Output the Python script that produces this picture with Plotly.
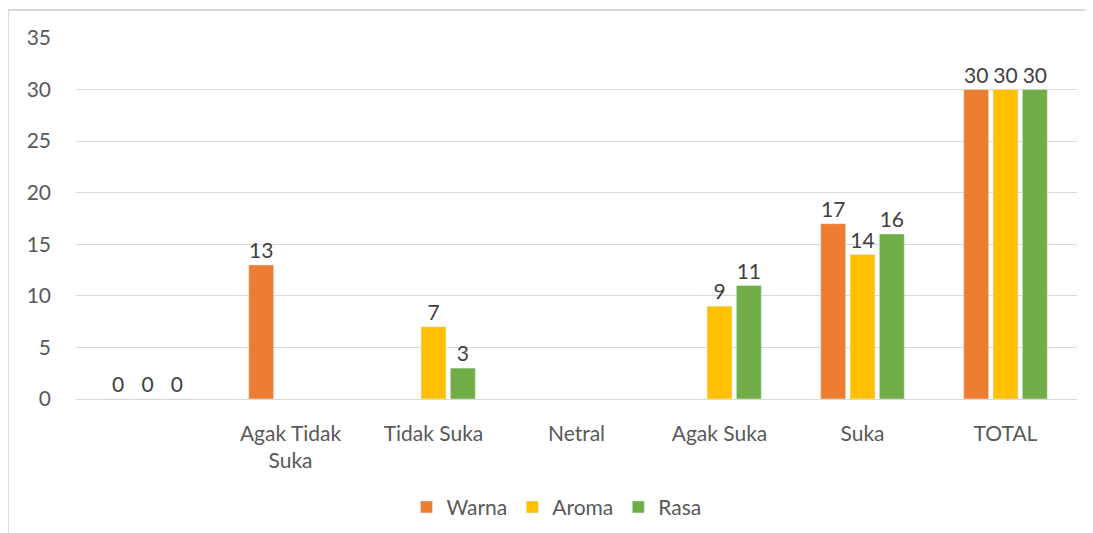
import plotly.graph_objects as go

categories = [" ", "Agak Tidak<br>Suka", "Tidak Suka", "Netral", "Agak Suka", "Suka", "TOTAL"]
warna = [0, 13, None, None, None, 17, 30]
aroma = [0, None, 7, None, 9, 14, 30]
rasa = [0, None, 3, None, 11, 16, 30]
series_names = ["Warna", "Aroma", "Rasa"]
colors = ["#ED7D31", "#FFC000", "#70AD47"]

FONT = "Lato, 'Open Sans', sans-serif"
FS = 21

fig = go.Figure()
for name, vals, col in zip(series_names, [warna, aroma, rasa], colors):
    fig.add_trace(go.Bar(
        x=categories, y=vals, name=name, marker_color=col,
        text=[("" if v is None else str(v)) for v in vals],
        textposition="outside", cliponaxis=False,
        textfont=dict(size=FS, color="#404040", family=FONT),
    ))

fig.update_layout(
    width=1085, height=525,
    margin=dict(l=68, r=16, t=30, b=134, autoexpand=False),
    plot_bgcolor="white", paper_bgcolor="white",
    barmode="group", bargap=0.385, bargroupgap=0.15,
    font=dict(family=FONT, size=FS, color="#595959"),
    showlegend=True,
    legend=dict(orientation="h", x=0.48, xanchor="center", y=-0.30, yanchor="middle",
                font=dict(size=FS, color="#595959"), itemwidth=30, traceorder="normal"),
    xaxis=dict(showgrid=False, showline=False, ticks="", tickfont=dict(size=FS, color="#595959"),
               ticklabelstandoff=20),
    yaxis=dict(range=[0, 35], dtick=5, showgrid=True, gridcolor="#D9D9D9", gridwidth=1,
               zeroline=True, zerolinecolor="#D9D9D9", zerolinewidth=1, showline=False, ticks="",
               tickfont=dict(size=FS, color="#595959"), ticklabelstandoff=24),
    shapes=[
        dict(type="line", xref="paper", yref="paper", x0=-0.068, x1=1.03, y0=1.0776, y1=1.0776,
             line=dict(color="#D9D9D9", width=2)),
        dict(type="line", xref="paper", yref="paper", x0=-0.068, x1=-0.068, y0=1.0776, y1=-0.38,
             line=dict(color="#D9D9D9", width=2)),
    ],
)

fig.write_html("out.html")
